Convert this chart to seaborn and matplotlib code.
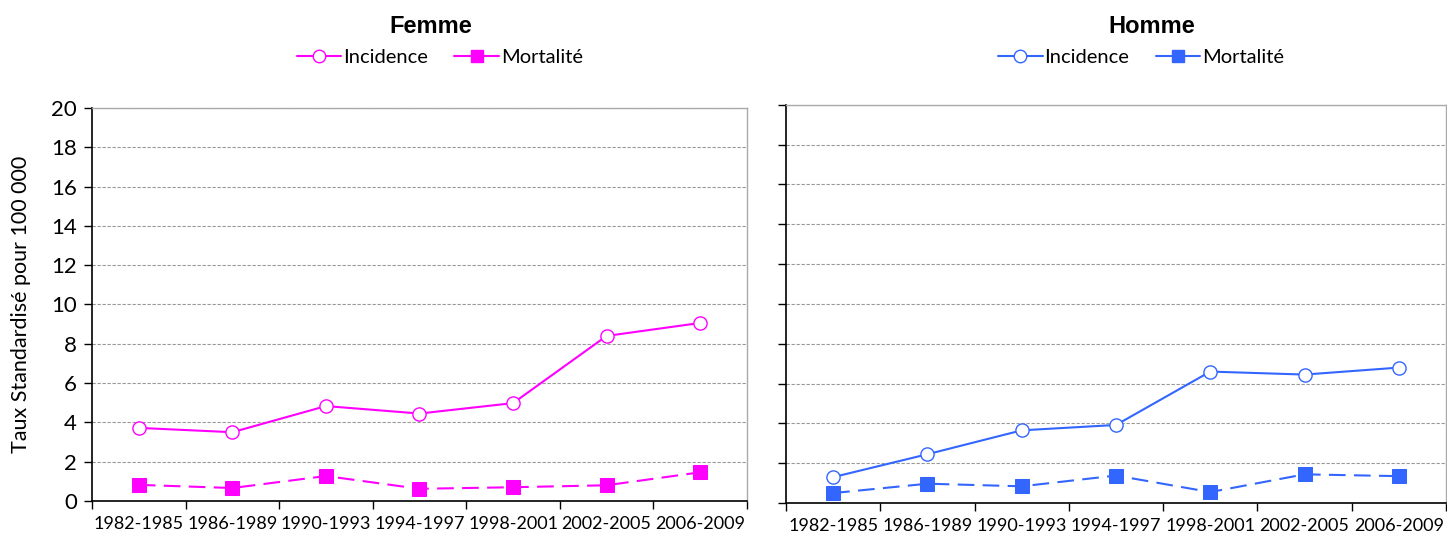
import matplotlib
matplotlib.use("Agg")
import matplotlib.pyplot as plt
import seaborn as sns
import pandas as pd
from matplotlib.lines import Line2D

periods = ["1982-1985", "1986-1989", "1990-1993", "1994-1997",
           "1998-2001", "2002-2005", "2006-2009"]
femme_incidence = [3.72, 3.50, 4.83, 4.45, 4.98, 8.40, 9.06]
femme_mortalite = [0.82, 0.66, 1.27, 0.62, 0.70, 0.80, 1.46]
homme_incidence = [1.30, 2.45, 3.65, 3.92, 6.60, 6.45, 6.80]
homme_mortalite = [0.50, 0.97, 0.84, 1.38, 0.55, 1.44, 1.35]
y_ticks = list(range(0, 21, 2))

sns.set_theme(style="white")
plt.rcParams["font.family"] = ["Lato", "DejaVu Sans"]
plt.rcParams["text.color"] = "black"
plt.rcParams["axes.labelcolor"] = "black"
plt.rcParams["xtick.color"] = "black"
plt.rcParams["ytick.color"] = "black"

fig = plt.figure(figsize=(14.47, 5.38), dpi=100)
ax1 = fig.add_axes([0.0636, 0.0688, 0.4526, 0.7305])
ax2 = fig.add_axes([0.5432, 0.0650, 0.4561, 0.7404])

pink = "#FF00FF"
blue = "#3366FF"

panels = [
    (ax1, "Femme", femme_incidence, femme_mortalite, pink, True, 0.298, 0.304),
    (ax2, "Homme", homme_incidence, homme_mortalite, blue, False, 0.796, 0.7886),
]

for ax, title, inc, mort, col, show_ylab, titx, legx in panels:
    df = pd.DataFrame({"periode": periods, "Incidence": inc, "Mortalité": mort})
    xs = list(range(len(periods)))
    sns.lineplot(x=xs, y=df["Incidence"], ax=ax, color=col, linewidth=1.5,
                 marker="o", markersize=9.5, markerfacecolor="white",
                 markeredgecolor=col, markeredgewidth=1.0)
    sns.lineplot(x=xs, y=df["Mortalité"], ax=ax, color=col, linewidth=1.5,
                 linestyle=(0, (8, 4)), marker="s", markersize=10,
                 markerfacecolor=col, markeredgecolor=col)
    ax.set_xlim(-0.5, len(periods) - 0.5)
    ax.set_ylim(0, 20)
    ax.set_yticks(y_ticks)
    ax.set_xticks(xs)
    ax.set_xticklabels(periods, fontsize=13.0)
    ax.set_xticks([i - 0.5 for i in range(len(periods) + 1)], minor=True)
    ax.tick_params(axis="x", which="major", length=0, pad=11)
    ax.tick_params(axis="x", which="minor", length=6, width=1, color="black",
                   direction="out", bottom=True)
    ax.tick_params(axis="y", length=6, width=1, color="black", direction="out",
                   left=True, labelsize=16, pad=5)
    ax.set_xlabel("")
    if show_ylab:
        ax.set_ylabel("Taux Standardisé pour 100 000", fontsize=15.5, labelpad=14)
    else:
        ax.set_ylabel("")
        ax.set_yticklabels([])
    ax.yaxis.grid(True, color="#999999", linestyle=(0, (3, 1.5)), linewidth=0.8)
    ax.set_axisbelow(True)
    for s in ["left", "bottom"]:
        ax.spines[s].set_color("black")
        ax.spines[s].set_linewidth(1.2)
    for s in ["top", "right"]:
        ax.spines[s].set_color("#aaaaaa")
        ax.spines[s].set_linewidth(1.0)
    fig.text(titx, 0.950, title, ha="center", va="center", fontsize=17,
             fontweight="bold", color="black",
             family=["Liberation Sans", "DejaVu Sans"])
    handles = [
        Line2D([], [], color=col, linewidth=1.5, marker="o", markersize=9,
               markerfacecolor="white", markeredgecolor=col),
        Line2D([], [], color=col, linewidth=1.5, marker="s", markersize=9,
               markerfacecolor=col, markeredgecolor=col),
    ]
    fig.legend(handles, ["Incidence", "Mortalité"], loc="center",
               bbox_to_anchor=(legx, 0.893), ncol=2, frameon=False,
               fontsize=14.5, handlelength=2.2, handletextpad=0.1,
               columnspacing=1.3, labelcolor="black")

fig.savefig("out.png", dpi=100)
